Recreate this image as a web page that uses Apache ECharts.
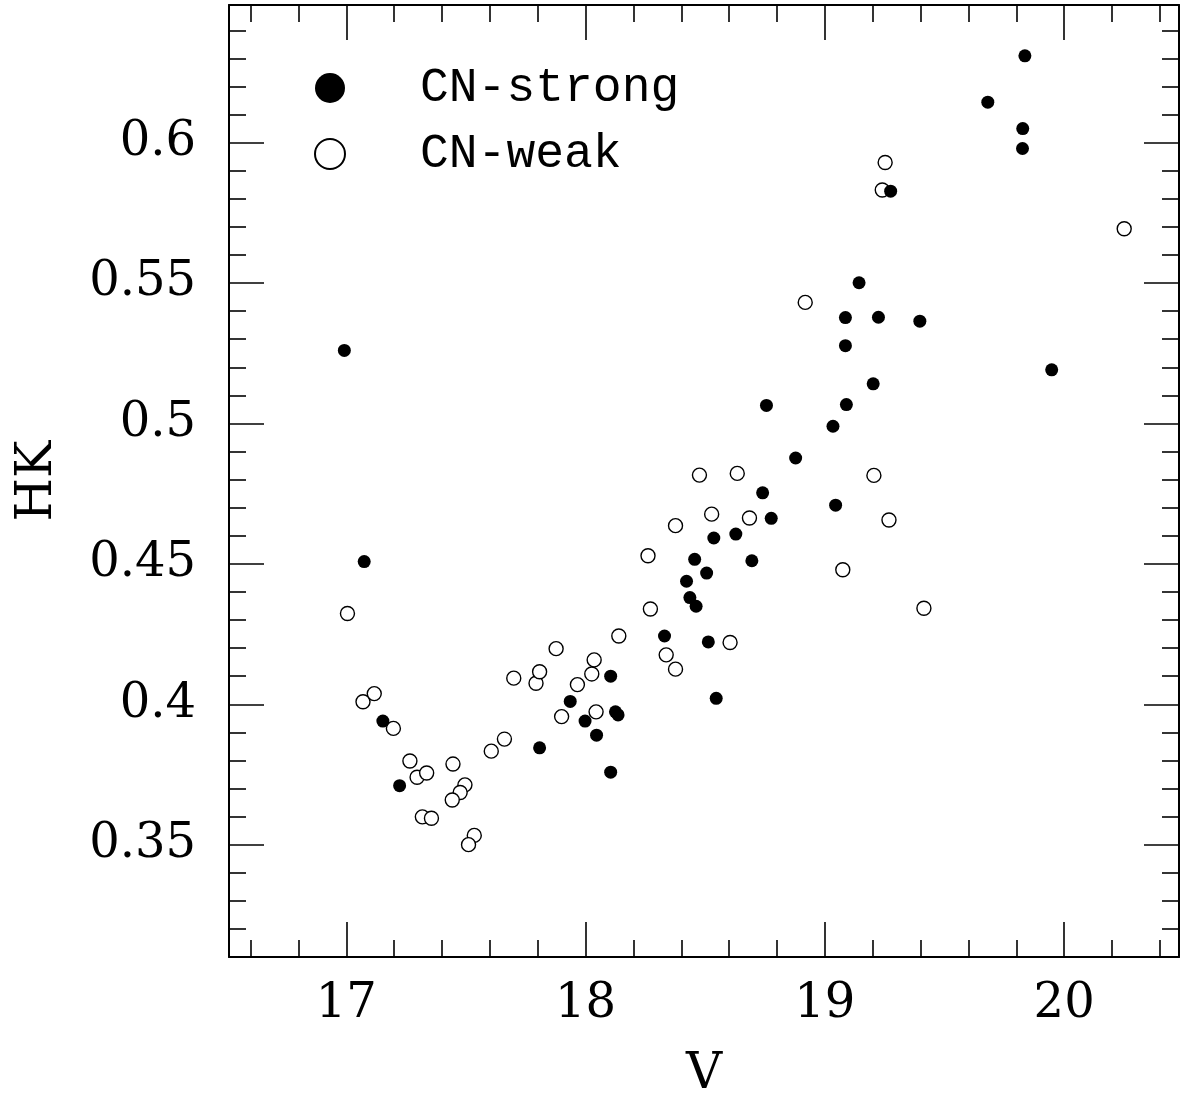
<!DOCTYPE html>
<html>
<head>
<meta charset="utf-8">
<script src="https://cdn.jsdelivr.net/npm/echarts@6/dist/echarts.min.js"></script>
<style>
  html, body { margin: 0; padding: 0; background: #fff; }
  #chart { width: 1180px; height: 1095px; }
</style>
</head>
<body>
<div id="chart"></div>
<script>
// CN-strong stars (filled)
const strongV = [16.992, 17.075, 17.153, 17.223, 17.808, 17.936, 17.998, 18.046, 18.105, 18.105,
  18.125, 18.136, 18.33, 18.422, 18.436, 18.456, 18.462, 18.506, 18.513, 18.536,
  18.546, 18.628, 18.695, 18.74, 18.756, 18.776, 18.878, 19.034, 19.045, 19.086,
  19.086, 19.09, 19.143, 19.202, 19.224, 19.275, 19.397, 19.681, 19.827, 19.826,
  19.836, 19.948];
const strongHK = [0.526, 0.4508, 0.394, 0.371, 0.3845, 0.401, 0.394, 0.389, 0.41, 0.3758,
  0.3973, 0.3962, 0.4243, 0.4438, 0.438, 0.4516, 0.4349, 0.4467, 0.4222, 0.4592,
  0.4021, 0.4606, 0.4511, 0.4753, 0.5064, 0.4662, 0.4877, 0.499, 0.4709, 0.5377,
  0.5277, 0.5067, 0.5501, 0.5141, 0.5378, 0.5827, 0.5364, 0.6144, 0.605, 0.5979,
  0.6309, 0.5191];

// CN-weak stars (open)
const weakV = [17.005, 17.07, 17.117, 17.197, 17.266, 17.296, 17.336, 17.318, 17.356, 17.446,
  17.496, 17.476, 17.443, 17.535, 17.511, 17.606, 17.661, 17.7, 17.793, 17.808,
  17.877, 17.9, 17.966, 18.026, 18.036, 18.044, 18.139, 18.261, 18.271, 18.337,
  18.376, 18.376, 18.476, 18.527, 18.604, 18.634, 18.685, 18.918, 19.075, 19.205,
  19.24, 19.252, 19.268, 19.414, 20.251];
const weakHK = [0.4323, 0.4009, 0.4038, 0.3914, 0.3798, 0.374, 0.3755, 0.3599, 0.3594, 0.3787,
  0.3713, 0.3686, 0.3659, 0.3533, 0.35, 0.3833, 0.3876, 0.4093, 0.4075, 0.4116,
  0.4198, 0.3956, 0.407, 0.4108, 0.4158, 0.3973, 0.4243, 0.4529, 0.4339, 0.4176,
  0.4125, 0.4636, 0.4816, 0.4677, 0.422, 0.4822, 0.4663, 0.5431, 0.4479, 0.4815,
  0.5831, 0.5929, 0.4656, 0.4342, 0.5693];

const xMajor = [17, 18, 19, 20];
const xMinor = [16.6, 16.8, 17.2, 17.4, 17.6, 17.8, 18.2, 18.4, 18.6, 18.8,
  19.2, 19.4, 19.6, 19.8, 20.2, 20.4];
const yMajor = [0.35, 0.4, 0.45, 0.5, 0.55, 0.6];
const yMinor = [0.32, 0.33, 0.34, 0.36, 0.37, 0.38, 0.39, 0.41, 0.42, 0.43, 0.44,
  0.46, 0.47, 0.48, 0.49, 0.51, 0.52, 0.53, 0.54, 0.56, 0.57, 0.58, 0.59,
  0.61, 0.62, 0.63, 0.64];

const xMin = 16.51, xMax = 20.48;
const yMin = 0.31, yMax = 0.649;
const serif = 'DejaVu Serif';

const chart = echarts.init(document.getElementById('chart'));

function axis(kind, position, ticks, len, main) {
  const a = {
    type: 'value',
    position: position,
    min: kind === 'x' ? xMin : yMin,
    max: kind === 'x' ? xMax : yMax,
    axisLine: { show: main, lineStyle: { color: '#000', width: 2 } },
    axisTick: {
      show: true, inside: true, length: len, customValues: ticks,
      lineStyle: { color: '#000', width: 1.6 }
    },
    axisLabel: { show: false },
    splitLine: { show: false }
  };
  if (main && (position === 'bottom' || position === 'left')) {
    a.axisLabel = {
      show: true,
      customValues: kind === 'x' ? xMajor : yMajor,
      fontFamily: serif,
      fontSize: 48,
      color: '#000',
      margin: kind === 'x' ? 24 : 33
    };
    a.name = kind === 'x' ? 'V' : 'HK';
    a.nameLocation = 'middle';
    a.nameGap = kind === 'x' ? 93 : 166;
    a.nameTextStyle = { fontFamily: serif, fontSize: 50, color: '#000' };
  }
  return a;
}

const option = {
  backgroundColor: '#fff',
  animation: false,
  grid: { left: 229, right: 1, top: 5, bottom: 138, containLabel: false, outerBoundsMode: 'none' },
  legend: {
    orient: 'vertical',
    left: 309,
    top: 59,
    itemWidth: 30,
    itemHeight: 30,
    itemGap: 18,
    icon: 'circle',
    data: ['CN-strong', 'CN-weak'],
    textStyle: {
      fontFamily: 'Liberation Mono',
      fontSize: 48,
      color: '#000',
      padding: [0, 0, 0, 70]
    }
  },
  xAxis: [
    axis('x', 'bottom', xMajor, 35, true),
    axis('x', 'bottom', xMinor, 17, false),
    axis('x', 'top', xMajor, 35, true),
    axis('x', 'top', xMinor, 17, false)
  ],
  yAxis: [
    axis('y', 'left', yMajor, 35, true),
    axis('y', 'left', yMinor, 17, false),
    axis('y', 'right', yMajor, 35, true),
    axis('y', 'right', yMinor, 17, false)
  ],
  series: [
    {
      name: 'CN-weak',
      type: 'scatter',
      symbol: 'circle',
      symbolSize: 14,
      data: weakV.map((v, i) => [v, weakHK[i]]),
      itemStyle: { color: '#fff', borderColor: '#000', borderWidth: 1.4, opacity: 1 },
      z: 2
    },
    {
      name: 'CN-strong',
      type: 'scatter',
      symbol: 'circle',
      symbolSize: 13,
      data: strongV.map((v, i) => [v, strongHK[i]]),
      itemStyle: { color: '#000', opacity: 1 },
      z: 3
    }
  ]
};

chart.setOption(option);
</script>
</body>
</html>
